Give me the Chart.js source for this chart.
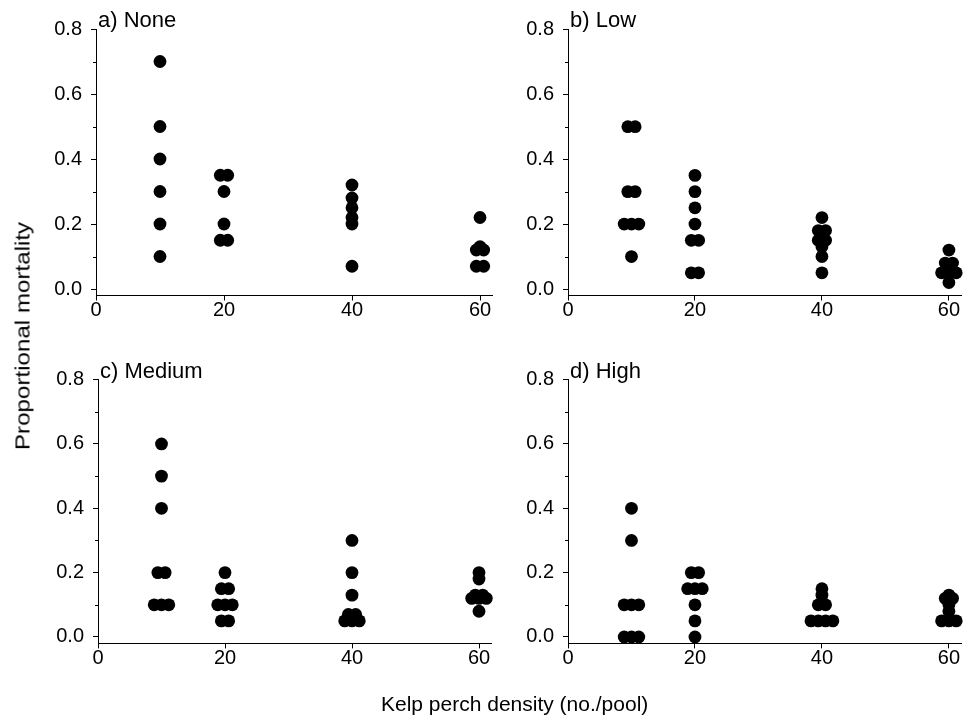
<!DOCTYPE html>
<html><head><meta charset="utf-8">
<script src="https://cdn.jsdelivr.net/npm/chart.js@4.4.0/dist/chart.umd.min.js"></script>
<style>
html,body{margin:0;padding:0;background:#fff;overflow:hidden;}
#wrap{position:relative;width:968px;height:717px;background:#fff;overflow:hidden;}
canvas{position:absolute;}
.t{position:absolute;font-family:"Liberation Sans",Arial,sans-serif;color:#000;white-space:nowrap;line-height:1;}
#ytitle{font-size:21px;left:22px;top:336px;transform:translate(-50%,-50%) rotate(-90deg) scaleX(1.15);}
#xtitle{font-size:21px;left:381px;top:693px;}
</style></head><body>
<div id="wrap">
<canvas id="cA"></canvas>
<canvas id="cB"></canvas>
<canvas id="cC"></canvas>
<canvas id="cD"></canvas>
<div class="t" id="ytitle">Proportional mortality</div>
<div class="t" id="xtitle">Kelp perch density (no./pool)</div>
</div>
<script>
// ---------- data ----------
const densities = [10, 20, 40, 60];
const panelTitles = ['a) None', 'b) Low', 'c) Medium', 'd) High'];
const yTickValues = [0, 0.2, 0.4, 0.6, 0.8];
const yMinorTickValues = [0.1, 0.3, 0.5, 0.7];
const xTickValues = [0, 20, 40, 60];

// proportional mortality per pool, one list per kelp perch density (10, 20, 40, 60)
const mortalityNone = [
  [0.7, 0.5, 0.4, 0.3, 0.2, 0.1],
  [0.35, 0.35, 0.3, 0.2, 0.15, 0.15],
  [0.32, 0.28, 0.25, 0.22, 0.2, 0.07],
  [0.22, 0.13, 0.12, 0.12, 0.07, 0.07]
];
const mortalityLow = [
  [0.5, 0.5, 0.3, 0.3, 0.2, 0.2, 0.2, 0.1],
  [0.35, 0.3, 0.25, 0.2, 0.15, 0.15, 0.05, 0.05],
  [0.22, 0.18, 0.18, 0.15, 0.15, 0.13, 0.1, 0.05],
  [0.12, 0.08, 0.08, 0.07, 0.05, 0.05, 0.05, 0.02]
];
const mortalityMedium = [
  [0.6, 0.5, 0.4, 0.2, 0.2, 0.1, 0.1, 0.1],
  [0.2, 0.15, 0.15, 0.1, 0.1, 0.1, 0.05, 0.05],
  [0.3, 0.2, 0.13, 0.07, 0.07, 0.05, 0.05, 0.05],
  [0.2, 0.18, 0.13, 0.13, 0.12, 0.12, 0.12, 0.08]
];
const mortalityHigh = [
  [0.4, 0.3, 0.1, 0.1, 0.1, 0, 0, 0],
  [0.2, 0.2, 0.15, 0.15, 0.15, 0.1, 0.05, 0],
  [0.15, 0.13, 0.1, 0.1, 0.05, 0.05, 0.05, 0.05],
  [0.13, 0.12, 0.12, 0.1, 0.08, 0.05, 0.05, 0.05]
];

// ---------- layout (page pixels) ----------
const panels = [
  {id:'cA', groups:mortalityNone,   title:panelTitles[0], box:{x:30,  y:0,   w:470, h:340}, area:{left:96,  right:492.8, top:29,   bottom:295.5}},
  {id:'cB', groups:mortalityLow,    title:panelTitles[1], box:{x:505, y:0,   w:463, h:340}, area:{left:568, right:964.8, top:29.3, bottom:295.5}},
  {id:'cC', groups:mortalityMedium, title:panelTitles[2], box:{x:30,  y:345, w:470, h:372}, area:{left:98,  right:491.7, top:379.6,bottom:643.4}},
  {id:'cD', groups:mortalityHigh,   title:panelTitles[3], box:{x:505, y:345, w:463, h:372}, area:{left:568, right:964.8, top:379.6,bottom:643.4}}
];
const JITTER = 1.15; // horizontal spread (x units) for tied values
const FONT = 'Liberation Sans, Arial, sans-serif';

function toPoints(groups){
  const pts = [];
  groups.forEach((vals, gi) => {
    const d = densities[gi];
    const counts = {}, seen = {};
    vals.forEach(v => counts[v] = (counts[v] || 0) + 1);
    vals.forEach(v => {
      const n = counts[v], k = seen[v] || 0;
      seen[v] = k + 1;
      pts.push({x: d + (k - (n - 1) / 2) * JITTER, y: v});
    });
  });
  return pts;
}

const panelTitlePlugin = {
  id: 'panelTitle',
  afterDraw(chart, args, opts){
    const ctx = chart.ctx, a = chart.chartArea;
    ctx.save();
    ctx.fillStyle = '#000';
    ctx.font = '22px ' + FONT;
    ctx.textAlign = 'left';
    ctx.textBaseline = 'alphabetic';
    ctx.fillText(opts.text, a.left + 2, a.top - 2);
    ctx.restore();
  }
};
const minorTickPlugin = {
  id: 'minorTicks',
  afterDraw(chart){
    const ctx = chart.ctx, ys = chart.scales.y;
    ctx.save();
    ctx.strokeStyle = '#000';
    ctx.lineWidth = 1;
    yMinorTickValues.forEach(v => {
      const p = Math.round(ys.getPixelForValue(v)) + 0.5;
      ctx.beginPath();
      ctx.moveTo(ys.right - 3, p);
      ctx.lineTo(ys.right, p);
      ctx.stroke();
    });
    ctx.restore();
  }
};

panels.forEach(p => {
  const cv = document.getElementById(p.id);
  cv.width = p.box.w; cv.height = p.box.h;
  cv.style.left = p.box.x + 'px'; cv.style.top = p.box.y + 'px';
  cv.style.width = p.box.w + 'px'; cv.style.height = p.box.h + 'px';
  new Chart(cv, {
    type: 'scatter',
    data: {datasets: [{
      data: toPoints(p.groups),
      pointRadius: 6.4, pointHoverRadius: 6.4,
      backgroundColor: '#000', borderColor: '#000', borderWidth: 0,
      clip: false
    }]},
    options: {
      responsive: false, animation: false, devicePixelRatio: 1, events: [],
      layout: {padding: {top: p.area.top - p.box.y, right: p.box.x + p.box.w - p.area.right, left: 0, bottom: 0}},
      plugins: {legend: {display: false}, tooltip: {enabled: false}, panelTitle: {text: p.title}},
      scales: {
        x: {
          type: 'linear', min: 0, max: 62,
          afterBuildTicks: s => { s.ticks = xTickValues.map(v => ({value: v})); },
          afterFit: s => { s.height = p.box.y + p.box.h - p.area.bottom; },
          grid: {drawOnChartArea: false, drawTicks: true, tickLength: 5, color: '#000', lineWidth: 1},
          border: {display: true, color: '#000', width: 1},
          ticks: {color: '#000', font: {family: FONT, size: 20}, padding: -2, maxRotation: 0, autoSkip: false,
                  callback: v => String(v)}
        },
        y: {
          type: 'linear', min: -0.02, max: 0.8,
          afterBuildTicks: s => { s.ticks = yTickValues.map(v => ({value: v})); },
          afterFit: s => { s.width = p.area.left - p.box.x; },
          grid: {drawOnChartArea: false, drawTicks: true, tickLength: 5, color: '#000', lineWidth: 1},
          border: {display: true, color: '#000', width: 1},
          ticks: {color: '#000', font: {family: FONT, size: 20}, padding: 9, autoSkip: false,
                  callback: v => Number(v).toFixed(1)}
        }
      }
    },
    plugins: [panelTitlePlugin, minorTickPlugin]
  });
});
</script>
</body></html>
